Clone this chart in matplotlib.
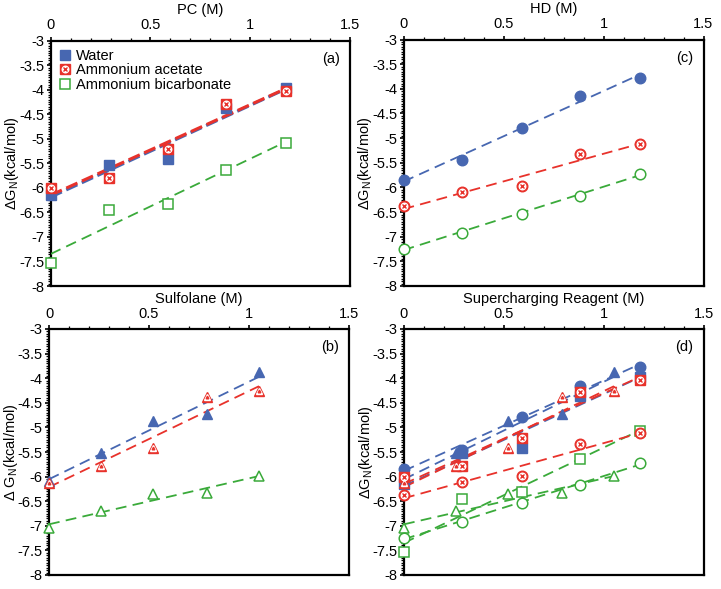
import numpy as np
import matplotlib
matplotlib.use("Agg")
import matplotlib.pyplot as plt
from matplotlib.ticker import MultipleLocator

plt.rcParams['font.family'] = ['Liberation Sans', 'DejaVu Sans']
plt.rcParams['mathtext.fontset'] = 'custom'
plt.rcParams['mathtext.rm'] = 'Liberation Sans'
plt.rcParams['mathtext.it'] = 'Liberation Sans:italic'

# ---------------- data ----------------
pc_x = [0.0, 0.29, 0.59, 0.88, 1.18]
pc_water = [-6.15, -5.53, -5.42, -4.37, -3.97]
pc_acetate = [-6.00, -5.79, -5.21, -4.29, -4.03]
pc_bicarb = [-7.54, -6.45, -6.32, -5.64, -5.08]

hd_x = [0.0, 0.29, 0.59, 0.88, 1.18]
hd_water = [-5.84, -5.45, -4.79, -4.15, -3.78]
hd_acetate = [-6.38, -6.10, -5.98, -5.33, -5.11]
hd_bicarb = [-7.24, -6.92, -6.53, -6.17, -5.72]

sf_x = [0.0, 0.26, 0.52, 0.79, 1.05]
sf_water = [-6.08, -5.53, -4.86, -4.73, -3.87]
sf_acetate = [-6.12, -5.78, -5.41, -4.39, -4.25]
sf_bicarb = [-7.04, -6.69, -6.35, -6.33, -5.99]

series_labels = ["Water", "Ammonium acetate", "Ammonium bicarbonate"]
x_ticks = [0, 0.5, 1, 1.5]
x_ticklabels = ["0", "0.5", "1", "1.5"]
y_ticks = [-3, -3.5, -4, -4.5, -5, -5.5, -6, -6.5, -7, -7.5, -8]
y_ticklabels = ["-3", "-3.5", "-4", "-4.5", "-5", "-5.5", "-6", "-6.5", "-7", "-7.5", "-8"]

BLUE = "#4767b1"
RED = "#e8322b"
GREEN = "#3aaa3a"

fig = plt.figure(figsize=(7.21, 5.89), dpi=100)
W, H = 721, 589


def make_ax(l, t, r, b):
    return fig.add_axes([l / W, 1 - b / H, (r - l) / W, (b - t) / H])


axA = make_ax(50.7, 40.7, 350, 286)
axC = make_ax(403.5, 39.5, 703.5, 286)
axB = make_ax(49, 329, 349, 575)
axD = make_ax(404, 329, 704, 575)

MS = 7.6


def plot_water(ax, x, y, m):
    return ax.plot(x, y, ls='none', marker=m, ms=MS, mfc=BLUE, mec=BLUE, zorder=5,
                   clip_on=False)[0]


def plot_acetate(ax, x, y, m):
    h1 = ax.plot(x, y, ls='none', marker=m, ms=MS, mfc=RED, mec=RED, zorder=6, clip_on=False)[0]
    if m == '^':
        h2 = ax.plot(x, y, ls='none', marker=m, ms=MS * 0.55, mfc='white', mec='white',
                     zorder=7, clip_on=False)[0]
        h3 = ax.plot(x, y, ls='none', marker=m, ms=MS * 0.25, mfc=RED, mec=RED,
                     zorder=8, clip_on=False)[0]
    else:
        h2 = ax.plot(x, y, ls='none', marker='o', ms=MS * 0.62, mfc='white', mec='white',
                     zorder=7, clip_on=False)[0]
        h3 = ax.plot(x, y, ls='none', marker='x', ms=MS * 0.42, mec=RED, mew=1.0,
                     zorder=8, clip_on=False)[0]
    return (h1, h2, h3)


def plot_bicarb(ax, x, y, m):
    return ax.plot(x, y, ls='none', marker=m, ms=MS, mfc='white', mec=GREEN, mew=1.1,
                   zorder=5, clip_on=False)[0]


def fit_line(ax, x, y, color, lw=1.3, dashes=(6, 3.5)):
    x = np.asarray(x)
    p = np.polyfit(x, y, 1)
    xx = np.array([x.min(), x.max()])
    ax.plot(xx, np.polyval(p, xx), color=color, lw=lw, dashes=dashes, zorder=4)


def style(ax, xlabel, letter, ylabel):
    ax.set_xlim(0, 1.5)
    ax.set_ylim(-8, -3)
    ax.xaxis.set_ticks_position('top')
    ax.xaxis.set_label_position('top')
    ax.set_xticks(x_ticks)
    ax.set_xticklabels(x_ticklabels)
    ax.xaxis.set_minor_locator(MultipleLocator(0.1))
    ax.set_yticks(y_ticks)
    ax.set_yticklabels(y_ticklabels)
    ax.yaxis.set_minor_locator(MultipleLocator(0.05))
    ax.tick_params(axis='both', which='major', direction='out', length=3, width=1.2,
                   labelsize=10.5, pad=1.5)
    ax.tick_params(axis='x', which='major', pad=3)
    ax.tick_params(axis='both', which='minor', direction='out', length=2, width=0.9)
    ax.tick_params(axis='x', which='both', top=True, bottom=False)
    ax.tick_params(axis='y', which='both', left=True, right=False)
    for s in ax.spines.values():
        s.set_linewidth(1.6)
    ax.set_xlabel(xlabel, fontsize=10.5, labelpad=3)
    ax.set_ylabel(ylabel, fontsize=10.5)
    ax.yaxis.set_label_coords(-0.098, 0.5)
    ax.text(0.965, 0.955, letter, transform=ax.transAxes, ha='right', va='top', fontsize=10.5)


ylab = r'$\Delta$G$_\mathrm{N}$(kcal/mol)'
ylab_b = r'$\Delta$ G$_\mathrm{N}$(kcal/mol)'

# (a) PC
fit_line(axA, pc_x, pc_bicarb, GREEN)
fit_line(axA, pc_x, pc_water, BLUE, lw=2.2, dashes=(4, 1.6))
fit_line(axA, pc_x, pc_acetate, RED, lw=2.2, dashes=(4, 1.6))
hw = plot_water(axA, pc_x, pc_water, 's')
ha = plot_acetate(axA, pc_x, pc_acetate, 's')
hb = plot_bicarb(axA, pc_x, pc_bicarb, 's')
style(axA, "PC (M)", "(a)", ylab)
axA.legend([hw, ha, hb], series_labels, loc='upper left', frameon=False, fontsize=10.5,
           handlelength=0.9, handletextpad=0.3, labelspacing=0.05, borderaxespad=0.25,
           borderpad=0.3)

# (c) HD
fit_line(axC, hd_x, hd_water, BLUE)
fit_line(axC, hd_x, hd_acetate, RED)
fit_line(axC, hd_x, hd_bicarb, GREEN)
plot_water(axC, hd_x, hd_water, 'o')
plot_acetate(axC, hd_x, hd_acetate, 'o')
plot_bicarb(axC, hd_x, hd_bicarb, 'o')
style(axC, "HD (M)", "(c)", ylab)

# (b) Sulfolane
fit_line(axB, sf_x, sf_water, BLUE)
fit_line(axB, sf_x, sf_acetate, RED)
fit_line(axB, sf_x, sf_bicarb, GREEN)
plot_water(axB, sf_x, sf_water, '^')
plot_acetate(axB, sf_x, sf_acetate, '^')
plot_bicarb(axB, sf_x, sf_bicarb, '^')
style(axB, "Sulfolane (M)", "(b)", ylab_b)

# (d) all
for x, w, a, b, m in [(pc_x, pc_water, pc_acetate, pc_bicarb, 's'),
                      (sf_x, sf_water, sf_acetate, sf_bicarb, '^'),
                      (hd_x, hd_water, hd_acetate, hd_bicarb, 'o')]:
    fit_line(axD, x, w, BLUE)
    fit_line(axD, x, a, RED)
    fit_line(axD, x, b, GREEN)
    plot_water(axD, x, w, m)
    plot_acetate(axD, x, a, m)
    plot_bicarb(axD, x, b, m)
style(axD, "Supercharging Reagent (M)", "(d)", ylab)

fig.savefig("out.png", dpi=100)
